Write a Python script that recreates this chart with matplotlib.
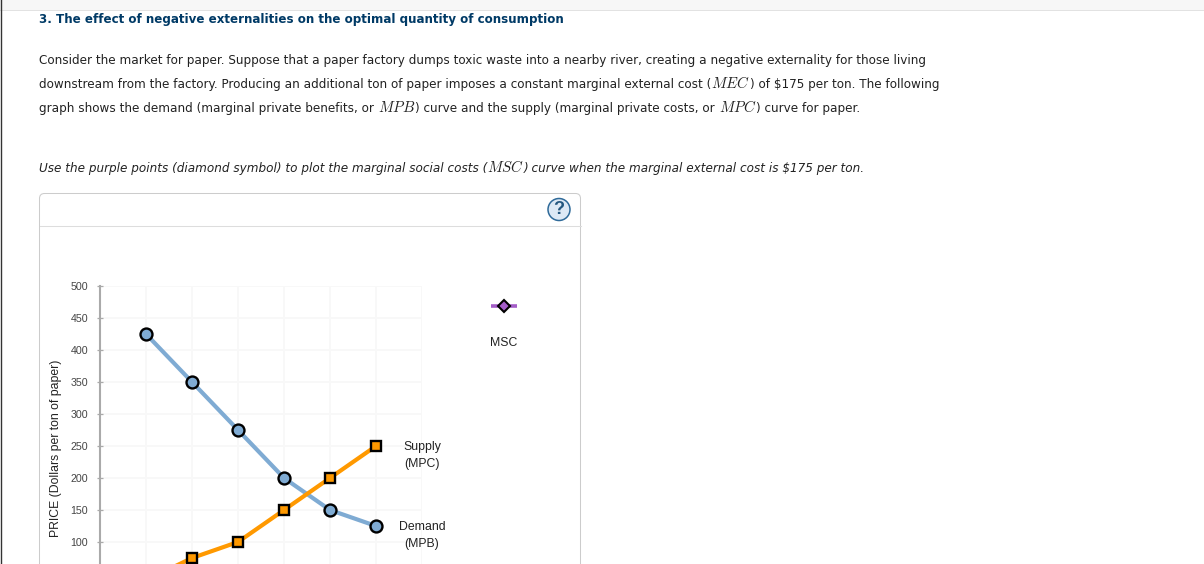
import re
import matplotlib
matplotlib.use("Agg")
import matplotlib.pyplot as plt
from matplotlib.patches import FancyBboxPatch, Circle, Rectangle

# ---- data
quantity = [1, 2, 3, 4, 5, 6]
demand_mpb = [425, 350, 275, 200, 150, 125]
supply_mpc = [40, 75, 100, 150, 200, 250]
y_ticks = [100, 150, 200, 250, 300, 350, 400, 450, 500]
x_grid = [0, 1, 2, 3, 4, 5, 6, 7]

title = "3. The effect of negative externalities on the optimal quantity of consumption"
body_lines = [
    r"Consider the market for paper. Suppose that a paper factory dumps toxic waste into a nearby river, creating a negative externality for those living",
    r"downstream from the factory. Producing an additional ton of paper imposes a constant marginal external cost ($MEC$) of \$175 per ton. The following",
    r"graph shows the demand (marginal private benefits, or $MPB$) curve and the supply (marginal private costs, or $MPC$) curve for paper.",
]
instruction = r"Use the purple points (diamond symbol) to plot the marginal social costs ($MSC$) curve when the marginal external cost is \$175 per ton."

W, H = 1204, 564
BLUE, ORANGE, PURPLE = "#7fabd3", "#ff9900", "#a45dc8"
plt.rcParams["mathtext.fontset"] = "cm"
fig = plt.figure(figsize=(W / 100, H / 100), dpi=100, facecolor="white")

# page overlay, in pixel coordinates
page = fig.add_axes([0, 0, 1, 1], zorder=0)
page.set_xlim(0, W)
page.set_ylim(H, 0)
page.axis("off")
page.add_patch(Rectangle((0, 0), W, 9.5, fc="#f7f7f7", ec="none"))
page.plot([0, W], [9.5, 9.5], color="#e2e2e2", lw=0.72)
page.plot([0.5, 0.5], [0, H], color="#333333", lw=1.0)

renderer = fig.canvas.get_renderer()


def inline(x, y, line, size, style="normal"):
    """Lay out a line piece by piece so that the maths can be larger than the text."""
    for part in re.split(r"(\$[A-Z]+\$)", line):
        if not part:
            continue
        math = part.startswith("$") and part.endswith("$") and len(part) > 2
        t = page.text(x, y, part, fontsize=size * 1.24 if math else size, color="#222222",
                      family="DejaVu Sans", style="normal" if math else style,
                      va="baseline")
        # trailing blanks are not measured, so measure with a guard character
        if not math and part.endswith(" "):
            guard = page.text(0, 0, part + ".", fontsize=size, family="DejaVu Sans", style=style)
            dot = page.text(0, 0, ".", fontsize=size, family="DejaVu Sans", style=style)
            width = guard.get_window_extent(renderer).width - dot.get_window_extent(renderer).width
            guard.remove()
            dot.remove()
        else:
            width = t.get_window_extent(renderer).width
        x += width


page.text(39, 23.5, title, fontsize=8.57, fontweight="bold", color="#003a66",
          family="DejaVu Sans", va="baseline")
for y, line in zip([64, 88, 112], body_lines):
    inline(39, y, line, 8.67)
inline(39, 172, instruction, 8.67, style="italic")

# panel
page.add_patch(FancyBboxPatch((39.5, 193.5), 541, 420, boxstyle="round,pad=0,rounding_size=5",
                              fc="white", ec="#cccccc", lw=0.75))
page.plot([39.5, 580.5], [225.5, 225.5], color="#dddddd", lw=0.75)
page.add_patch(Circle((559, 209.5), 11, fc="#dde9f5", ec="#2f6a99", lw=1.1))
page.text(559, 210, "?", fontsize=13, color="#24577f", family="Liberation Sans",
          fontweight="bold", ha="center", va="center")

# chart
ax = fig.add_axes([100 / W, (H - 606) / H, 322 / W, 320 / H], zorder=1)
ax.patch.set_alpha(0)
ax.set_xlim(0, 7)
ax.set_ylim(0, 500)
ax.set_yticks(y_ticks)
ax.set_xticks(x_grid)
ax.set_xticklabels([])
ax.grid(True, color="#f8f8f8", lw=1.4)
ax.set_axisbelow(True)
for s in ("top", "right", "bottom"):
    ax.spines[s].set_visible(False)
ax.spines["left"].set_color("#aaaaaa")
ax.spines["left"].set_linewidth(1.5)
ax.tick_params(axis="y", length=5, width=0.9, color="#aaaaaa", labelsize=7.7,
               labelcolor="#444444", pad=6, direction="inout")
ax.tick_params(axis="x", length=0)
for t in ax.get_yticklabels():
    t.set_family("Liberation Sans")
ax.set_ylabel("PRICE (Dollars per ton of paper)", fontsize=8.85, family="Liberation Sans",
              color="#222222")
ax.yaxis.set_label_coords(-38 / 322, 158 / 320)

ax.plot(quantity, demand_mpb, color=BLUE, lw=3.0, marker="o", ms=8.6, mfc=BLUE, mec="black",
        mew=1.7, clip_on=False, zorder=3)
ax.plot(quantity, supply_mpc, color=ORANGE, lw=3.0, marker="s", ms=6.5, mfc=ORANGE, mec="black",
        mew=1.7, clip_on=True, zorder=4)

# labels and legend sit above the grid
over = fig.add_axes([0, 0, 1, 1], zorder=2)
over.set_xlim(0, W)
over.set_ylim(H, 0)
over.axis("off")
label_font = dict(fontsize=8.85, family="Liberation Sans", color="#222222", ha="center", va="center")
over.text(422, 447, "Supply", **label_font)
over.text(422, 464, "(MPC)", **label_font)
over.text(422, 527, "Demand", **label_font)
over.text(422, 544, "(MPB)", **label_font)
over.text(504, 343, "MSC", **label_font)
over.plot([491, 517], [305.5, 305.5], color=PURPLE, lw=2.6, solid_capstyle="butt")
over.plot([504], [305.5], marker="D", ms=6.5, mfc=PURPLE, mec="black", mew=1.5)

fig.savefig("out.png", dpi=100)
